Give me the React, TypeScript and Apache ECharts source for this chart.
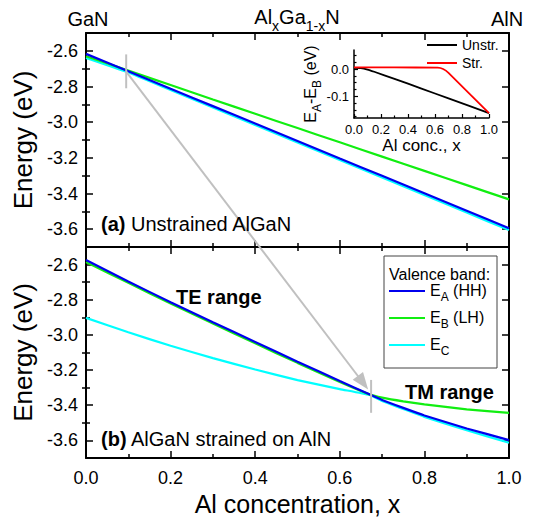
import React, { useEffect, useRef } from 'react';
import * as echarts from 'echarts';

const FONT = '"Liberation Sans", Arial, Helvetica, sans-serif';

// ---- Panel (a): unstrained AlGaN ----
const xTop = [0, 0.1, 0.2, 0.3, 0.4, 0.5, 0.6, 0.7, 0.8, 0.9, 1.0];
const topEA = [-2.617, -2.715, -2.813, -2.910, -3.008, -3.106, -3.204, -3.301, -3.399, -3.497, -3.595];
const topEB = [-2.630, -2.711, -2.792, -2.873, -2.953, -3.033, -3.113, -3.193, -3.273, -3.353, -3.433];
const topEC = [-2.640, -2.722, -2.820, -2.918, -3.016, -3.114, -3.212, -3.310, -3.409, -3.507, -3.605];

// ---- Panel (b): AlGaN strained on AlN ----
const xBot = [0, 0.1, 0.2, 0.3, 0.4, 0.5, 0.6, 0.67, 0.7, 0.75, 0.8, 0.9, 1.0];
const botEA = [-2.574, -2.696, -2.814, -2.928, -3.040, -3.152, -3.262, -3.338, -3.370, -3.415, -3.458, -3.532, -3.598];
const botEB = [-2.586, -2.704, -2.821, -2.935, -3.048, -3.159, -3.268, -3.338, -3.357, -3.378, -3.395, -3.423, -3.443];
const botEC = [-2.903, -2.985, -3.062, -3.132, -3.197, -3.257, -3.308, -3.342, -3.376, -3.421, -3.466, -3.542, -3.613];

// ---- Inset: E_A - E_B ----
const xUnstr = [0, 0.05, 0.1, 0.15, 0.3, 0.5, 0.7, 1.0];
const dUnstr = [0.004, 0.003, -0.002, -0.010, -0.036, -0.072, -0.108, -0.162];
const xStr = [0, 0.3, 0.62, 0.66, 0.7, 1.0];
const dStr = [0.006, 0.006, 0.005, 0.0, -0.014, -0.162];

// ---- Ticks ----
const yMajor = [-3.6, -3.4, -3.2, -3.0, -2.8, -2.6];
const yMinor = [-3.5, -3.3, -3.1, -2.9, -2.7];
const insetYMajor = [-0.1, 0.0];
const insetYMinor = [-0.175, -0.15, -0.125, -0.075, -0.05, -0.025, 0.025, 0.05];

// ---- Annotation anchors (data coords) ----
const markTop = { x: 0.095, y1: -2.62, y2: -2.81 };
const markBot = { x: 0.674, y1: -3.256, y2: -3.443 };
const arrowFrom = [0.095, -2.717];
const arrowTo = [0.667, -3.31];

const zip = (xs: number[], ys: number[]) => xs.map((x, i) => [x, ys[i]]);

const blk = '#000';
const axisLine = { show: true, onZero: false, lineStyle: { color: blk, width: 2 } };
const tickStyle = { color: blk, width: 1.5 };

function xAx(gridIndex: number, position: string, labels: boolean, extra: any = {}) {
  return {
    type: 'value', gridIndex, position, min: 0, max: 1, interval: 0.2,
    axisLine,
    axisTick: { show: true, inside: true, length: 7, lineStyle: tickStyle },
    minorTick: { show: true, splitNumber: 2, length: 4, lineStyle: tickStyle },
    axisLabel: {
      show: labels, fontSize: 18, fontFamily: FONT, color: blk, margin: 11,
      formatter: (v: number) => v.toFixed(1),
    },
    splitLine: { show: false }, minorSplitLine: { show: false },
    ...extra,
  };
}

function yMajorAx(gridIndex: number, position: string, labels: boolean, extra: any = {}) {
  return {
    type: 'value', gridIndex, position, min: -3.7, max: -2.5,
    axisLine,
    axisTick: { show: true, inside: true, length: 7, lineStyle: tickStyle, customValues: yMajor },
    axisLabel: {
      show: labels, customValues: yMajor, fontSize: 18, fontFamily: FONT, color: blk, margin: 8,
      formatter: (v: number) => v.toFixed(1),
    },
    splitLine: { show: false },
    ...extra,
  };
}
function yMinorAx(gridIndex: number, position: string) {
  return {
    type: 'value', gridIndex, position, min: -3.7, max: -2.5,
    axisLine: { show: false },
    axisTick: { show: true, inside: true, length: 4, lineStyle: tickStyle, customValues: yMinor },
    axisLabel: { show: false },
    splitLine: { show: false },
  };
}

const energyName = {
  name: 'Energy (eV)', nameLocation: 'middle', nameGap: 46,
  nameTextStyle: { fontSize: 26, fontFamily: FONT, color: blk },
};

const subRich = (n: number, s: number, pad: number, lh: number) => ({
  n: { fontSize: n, fontFamily: FONT, color: blk, lineHeight: lh, verticalAlign: 'top' },
  s: { fontSize: s, fontFamily: FONT, color: blk, lineHeight: s, verticalAlign: 'top', padding: [pad, 0, 0, 0] },
});

const legendNames: Record<string, string> = {
  EA: '{n|E}{s|A}{n| (HH)}',
  EB: '{n|E}{s|B}{n| (LH)}',
  EC: '{n|E}{s|C}',
};

const lineSeries = (name: string, xi: number, yi: number, data: number[][], color: string, width = 2.2) => ({
  name, type: 'line', xAxisIndex: xi, yAxisIndex: yi, data,
  showSymbol: false, symbol: 'none', smooth: 0.15,
  lineStyle: { color, width }, itemStyle: { color },
  emphasis: { disabled: true }, silent: true,
});

const C_A = '#0000ee';
const C_B = '#11ee11';
const C_C = '#00ffff';
const GREY = '#c0c0c0';

const option: any = {
  animation: false,
  backgroundColor: '#fff',
  grid: [
    { left: 86, top: 33, width: 423, height: 214 },
    { left: 86, top: 247, width: 423, height: 211 },
    { left: 354, top: 50, width: 135, height: 68 },
  ],
  xAxis: [
    xAx(0, 'bottom', false),
    xAx(0, 'top', false),
    xAx(1, 'bottom', true, {
      name: 'Al concentration, x', nameLocation: 'middle', nameGap: 33,
      nameTextStyle: { fontSize: 25, fontFamily: FONT, color: blk },
    }),
    xAx(1, 'top', false),
    {
      type: 'value', gridIndex: 2, position: 'bottom', min: 0, max: 1, interval: 0.2,
      axisLine: { show: true, onZero: false, lineStyle: { color: blk, width: 1.5 } },
      axisTick: { show: true, inside: true, length: 4, lineStyle: { color: blk, width: 1.2 } },
      minorTick: { show: true, splitNumber: 2, length: 2.5, lineStyle: { color: blk, width: 1.2 } },
      axisLabel: { fontSize: 13, fontFamily: FONT, color: blk, margin: 5, formatter: (v: number) => v.toFixed(1) },
      splitLine: { show: false }, minorSplitLine: { show: false },
      name: 'Al conc., x', nameLocation: 'middle', nameGap: 17,
      nameTextStyle: { fontSize: 17, fontFamily: FONT, color: blk },
    },
  ],
  yAxis: [
    yMajorAx(0, 'left', true, energyName),
    yMinorAx(0, 'left'),
    yMajorAx(0, 'right', false),
    yMinorAx(0, 'right'),
    yMajorAx(1, 'left', true, energyName),
    yMinorAx(1, 'left'),
    yMajorAx(1, 'right', false),
    yMinorAx(1, 'right'),
    {
      type: 'value', gridIndex: 2, position: 'left', min: -0.18, max: 0.07,
      axisLine: { show: true, onZero: false, lineStyle: { color: blk, width: 1.5 } },
      axisTick: { show: true, inside: true, length: 4, lineStyle: { color: blk, width: 1.2 }, customValues: insetYMajor },
      axisLabel: { customValues: insetYMajor, fontSize: 13, fontFamily: FONT, color: blk, margin: 5, formatter: (v: number) => v.toFixed(1) },
      splitLine: { show: false },
      name: '{n|E}{s|A}{n|-E}{s|B}{n| (eV)}', nameLocation: 'middle', nameGap: 30,
      nameTextStyle: { rich: subRich(16, 12, 8, 18) },
    },
    {
      type: 'value', gridIndex: 2, position: 'left', min: -0.18, max: 0.07,
      axisLine: { show: false },
      axisTick: { show: true, inside: true, length: 2.5, lineStyle: { color: blk, width: 1.2 }, customValues: insetYMinor },
      axisLabel: { show: false }, splitLine: { show: false },
    },
  ],
  legend: [
    {
      data: ['EA', 'EB', 'EC'], orient: 'vertical', left: 389, top: 282, padding: 0,
      icon: 'rect', itemWidth: 36, itemHeight: 2, itemGap: 6,
      formatter: (n: string) => legendNames[n] || n,
      textStyle: { fontSize: 16, fontFamily: FONT, color: blk, rich: subRich(16, 12, 9, 18) },
      selectedMode: false,
    },
    {
      data: ['Unstr.', 'Str.'], orient: 'vertical', left: 427, top: 37, padding: 0,
      icon: 'rect', itemWidth: 30, itemHeight: 2, itemGap: 2,
      textStyle: { fontSize: 14, fontFamily: FONT, color: blk, lineHeight: 16 },
      selectedMode: false,
    },
  ],
  series: [
    lineSeries('EC', 0, 0, zip(xTop, topEC), C_C),
    lineSeries('EB', 0, 0, zip(xTop, topEB), C_B),
    lineSeries('EA', 0, 0, zip(xTop, topEA), C_A),
    lineSeries('EC', 2, 4, zip(xBot, botEC), C_C),
    lineSeries('EB', 2, 4, zip(xBot, botEB), C_B),
    lineSeries('EA', 2, 4, zip(xBot, botEA), C_A),
    { ...lineSeries('Unstr.', 4, 8, zip(xUnstr, dUnstr), '#000', 1.8), smooth: 0.2 },
    { ...lineSeries('Str.', 4, 8, zip(xStr, dStr), '#ff0000', 1.8), smooth: 0.1 },
    { ...lineSeries('markTop', 0, 0, [[markTop.x, markTop.y1], [markTop.x, markTop.y2]], GREY, 2), smooth: false },
    { ...lineSeries('markBot', 2, 4, [[markBot.x, markBot.y1], [markBot.x, markBot.y2]], GREY, 2), smooth: false },
  ],
};

function txt(x: number, y: number, text: string, extra: any = {}) {
  return {
    type: 'text', x, y, z: 10,
    style: {
      text, fontSize: 20, fontFamily: FONT, fill: blk,
      align: 'left', verticalAlign: 'middle', textAlign: 'left', textVerticalAlign: 'middle',
      ...extra,
    },
  };
}

export default function App() {
  const ref = useRef<HTMLDivElement>(null);
  useEffect(() => {
    const chart = echarts.init(ref.current!, undefined, { renderer: 'svg' });
    chart.setOption(option);

    const a = chart.convertToPixel({ gridIndex: 0 }, arrowFrom) as number[];
    const b = chart.convertToPixel({ gridIndex: 1 }, arrowTo) as number[];
    const dx = b[0] - a[0], dy = b[1] - a[1];
    const len = Math.sqrt(dx * dx + dy * dy);
    const ux = dx / len, uy = dy / len;
    const headL = 17, headW = 6.5;
    const bx = b[0] - ux * headL, by = b[1] - uy * headL;

    const graphics: any[] = [
      {
        type: 'line', z: 5, silent: true,
        shape: { x1: a[0], y1: a[1], x2: bx + ux * 2, y2: by + uy * 2 },
        style: { stroke: GREY, lineWidth: 2 },
      },
      {
        type: 'polygon', z: 5, silent: true,
        shape: { points: [[b[0], b[1]], [bx - uy * headW, by + ux * headW], [bx + uy * headW, by - ux * headW]] },
        style: { fill: GREY },
      },
      txt(88, 19, 'GaN', { align: 'center', textAlign: 'center' }),
      txt(507, 19, 'AlN', { align: 'center', textAlign: 'center' }),
      txt(297, 7, '{n|Al}{s|x}{n|Ga}{s|1-x}{n|N}', {
        align: 'center', textAlign: 'center', verticalAlign: 'top', textVerticalAlign: 'top',
        rich: subRich(20, 14, 12, 24),
      }),
      txt(101, 224, '{b|(a)} Unstrained AlGaN', {
        rich: { b: { fontWeight: 'bold', fontSize: 20, fontFamily: FONT, fill: blk } },
      }),
      txt(101, 439, '{b|(b)} AlGaN strained on AlN', {
        rich: { b: { fontWeight: 'bold', fontSize: 20, fontFamily: FONT, fill: blk } },
      }),
      txt(176, 297, 'TE range', { fontWeight: 'bold' }),
      txt(405, 392, 'TM range', { fontWeight: 'bold' }),
      {
        type: 'rect', z: 3, silent: true,
        shape: { x: 384, y: 256, width: 113, height: 112 },
        style: { fill: 'rgba(0,0,0,0)', stroke: '#444', lineWidth: 1 },
      },
      txt(389, 274, 'Valence band:', { fontSize: 16 }),
    ];
    chart.setOption({ graphic: graphics });
    return () => chart.dispose();
  }, []);
  return <div ref={ref} style={{ position: 'fixed', left: 0, top: 0, width: 542, height: 523 }} />;
}
